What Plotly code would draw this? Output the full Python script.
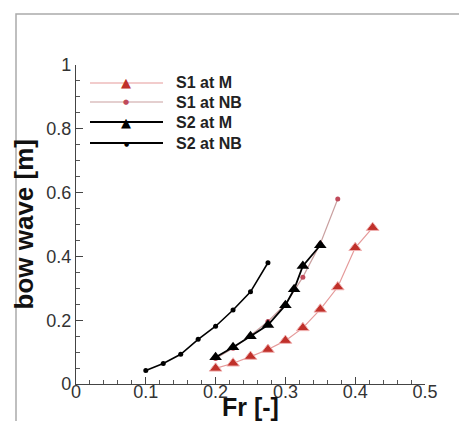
import plotly.graph_objects as go

# ---- data ----
s1m_x = [0.2, 0.225, 0.25, 0.275, 0.3, 0.325, 0.35, 0.375, 0.4, 0.425]
s1m_y = [0.049, 0.065, 0.086, 0.108, 0.136, 0.176, 0.234, 0.304, 0.427, 0.49]

s1nb_x = [0.2, 0.225, 0.25, 0.275, 0.3, 0.325, 0.35, 0.375]
s1nb_y = [0.08, 0.112, 0.152, 0.196, 0.25, 0.335, 0.44, 0.58]

s2m_x = [0.2, 0.225, 0.25, 0.275, 0.3, 0.3125, 0.325, 0.35]
s2m_y = [0.084, 0.115, 0.15, 0.185, 0.247, 0.297, 0.37, 0.435]

s2nb_x = [0.1, 0.125, 0.15, 0.175, 0.2, 0.225, 0.25, 0.275]
s2nb_y = [0.042, 0.064, 0.093, 0.14, 0.181, 0.232, 0.289, 0.38]

series_names = ["S1 at M", "S1 at NB", "S2 at M", "S2 at NB"]
x_ticks = [0, 0.1, 0.2, 0.3, 0.4, 0.5]
x_tick_text = ["0", "0.1", "0.2", "0.3", "0.4", "0.5"]
y_ticks = [0, 0.2, 0.4, 0.6, 0.8, 1]
y_tick_text = ["0", "0.2", "0.4", "0.6", "0.8", "1"]

W, H = 467, 421
L, R, T, B = 68, 50, 57, 45
PW, PH = W - L - R, H - T - B


def px(xp):
    return (xp - L) / PW


def py(yp):
    return (H - B - yp) / PH


RED = "#c0302a"
PINK = "#e59a9a"
GRAYPINK = "#c9a0a0"

fig = go.Figure()
fig.add_trace(go.Scatter(x=s1m_x, y=s1m_y, mode="lines+markers", name=series_names[0],
                         line=dict(color=PINK, width=1.2),
                         marker=dict(symbol="triangle-up", size=11, color=RED,
                                     line=dict(color="#f0b0b0", width=1))))
fig.add_trace(go.Scatter(x=s1nb_x, y=s1nb_y, mode="lines+markers", name=series_names[1],
                         line=dict(color=GRAYPINK, width=1.2),
                         marker=dict(symbol="circle", size=5, color="#c04a5a")))
fig.add_trace(go.Scatter(x=s2m_x, y=s2m_y, mode="lines+markers", name=series_names[2],
                         line=dict(color="black", width=1.8),
                         marker=dict(symbol="triangle-up", size=11, color="black")))
fig.add_trace(go.Scatter(x=s2nb_x, y=s2nb_y, mode="lines+markers", name=series_names[3],
                         line=dict(color="black", width=1.6),
                         marker=dict(symbol="circle", size=5, color="black")))

# custom legend
rows = [75, 94, 114, 135]
leg_styles = [
    (PINK, 1.2, "▲", RED, 13),
    (GRAYPINK, 1.2, "●", "#c04a5a", 7),
    ("black", 2, "▲", "black", 13),
    ("black", 2, "●", "black", 6),
]
for name, yr, (lc, lw, sym, mc, ms) in zip(series_names, rows, leg_styles):
    fig.add_shape(type="line", xref="paper", yref="paper",
                  x0=px(82), x1=px(155), y0=py(yr), y1=py(yr),
                  line=dict(color=lc, width=lw))
    fig.add_annotation(x=px(118), y=py(yr), xref="paper", yref="paper", text=sym,
                       showarrow=False, font=dict(size=ms, color=mc, family="DejaVu Sans"),
                       xanchor="center", yanchor="middle")
    fig.add_annotation(x=px(166), y=py(yr), xref="paper", yref="paper", text=f"<b>{name}</b>",
                       showarrow=False, font=dict(size=16, color="#222", family="Liberation Sans, Arial"),
                       xanchor="left", yanchor="middle")

# axis titles
fig.add_annotation(x=0.5, y=py(383), xref="paper", yref="paper", text="<b>Fr [-]</b>",
                   showarrow=False, xanchor="center", yanchor="top",
                   font=dict(size=25, color="#111", family="Liberation Sans, Arial"))
fig.add_annotation(x=px(15), y=0.5, xref="paper", yref="paper", text="<b>bow wave [m]</b>",
                   showarrow=False, xanchor="center", yanchor="middle", textangle=-90,
                   font=dict(size=26, color="#111", family="Liberation Sans, Arial"))

# outer frame
fig.add_shape(type="rect", xref="paper", yref="paper",
              x0=px(8), x1=px(465), y0=py(419), y1=py(6),
              line=dict(color="#aaaaaa", width=1.5), layer="below")

axis_common = dict(showgrid=False, zeroline=False, showline=True, linecolor="#444",
                   linewidth=1.3, ticks="inside", ticklen=7, tickwidth=1.2, tickcolor="#444",
                   tickfont=dict(size=18, color="#333", family="Liberation Sans, Arial"))

fig.update_xaxes(range=[0, 0.5], tickvals=x_ticks, ticktext=x_tick_text,
                 ticklabelstandoff=-9,
                 minor=dict(ticks="inside", ticklen=4, dtick=0.02, tickcolor="#555"),
                 **axis_common)
fig.update_yaxes(range=[0, 1], tickvals=y_ticks, ticktext=y_tick_text,
                 minor=dict(ticks="inside", ticklen=4, dtick=0.05, tickcolor="#555"),
                 **axis_common)

fig.update_layout(width=W, height=H, margin=dict(l=L, r=R, t=T, b=B),
                  paper_bgcolor="white", plot_bgcolor="white", showlegend=False)

fig.write_html("out.html")
